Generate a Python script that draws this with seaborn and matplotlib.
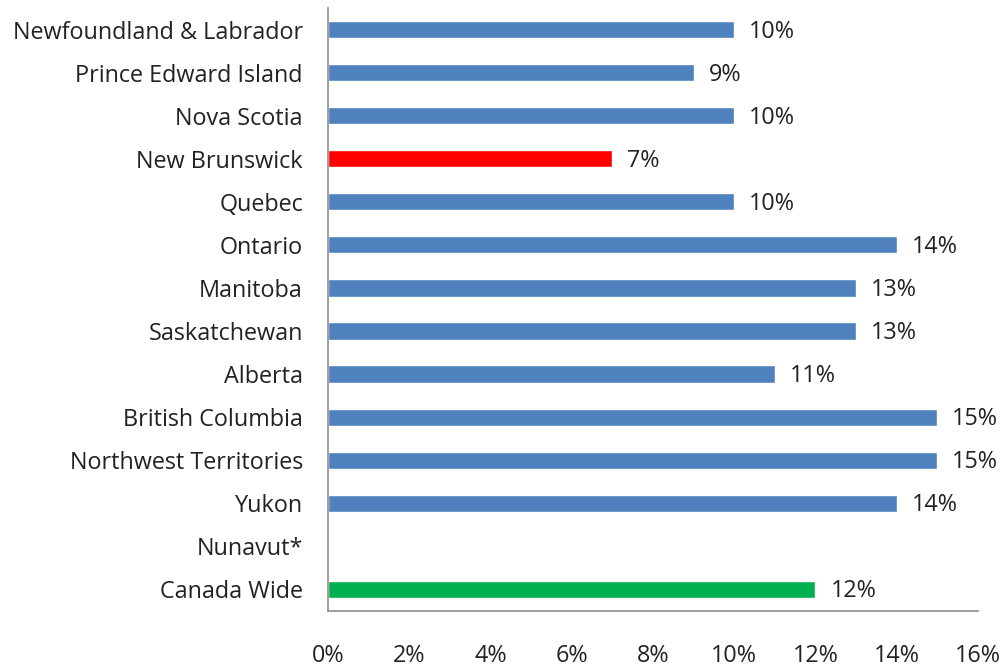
import matplotlib
matplotlib.use("Agg")
import matplotlib.pyplot as plt
import seaborn as sns
import numpy as np
import pandas as pd

regions = ["Newfoundland & Labrador", "Prince Edward Island", "Nova Scotia",
           "New Brunswick", "Quebec", "Ontario", "Manitoba", "Saskatchewan",
           "Alberta", "British Columbia", "Northwest Territories", "Yukon",
           "Nunavut*", "Canada Wide"]
values = [10, 9, 10, 7, 10, 14, 13, 13, 11, 15, 15, 14, np.nan, 12]
colors = ["#4F81BD"] * 3 + ["#FF0000"] + ["#4F81BD"] * 9 + ["#00B050"]
xticks = [0, 2, 4, 6, 8, 10, 12, 14, 16]

sns.set_theme(style="white")
plt.rcParams["font.family"] = ["Open Sans", "DejaVu Sans"]

df = pd.DataFrame({"region": regions, "value": values})

fig = plt.figure(figsize=(10.03, 6.67), dpi=100)
ax = fig.add_axes([0.327, 0.084, 0.648, 0.904])
sns.barplot(data=df, x="value", y="region", hue="region", palette=colors,
            order=regions, hue_order=regions, width=0.4, legend=False,
            saturation=1, ax=ax, orient="h")

fs = 16.8
for i, v in enumerate(values):
    if not np.isnan(v):
        ax.annotate(f"{v:.0f}%", (v, i), xytext=(15, -2), textcoords="offset pixels",
                    ha="left", va="center", fontsize=fs, color="#222222")

ax.set_xlim(0, 16)
ax.set_ylim(len(regions) - 0.5, -0.5)
ax.set_xticks(xticks)
ax.set_xticklabels([f"{t}%" for t in xticks])
ax.set_xlabel("")
ax.set_ylabel("")
ax.tick_params(axis="x", length=0, pad=24, labelsize=fs, colors="#222222")
ax.tick_params(axis="y", length=0, pad=18, labelsize=fs, colors="#222222")
for s in ["top", "right"]:
    ax.spines[s].set_visible(False)
for s in ["left", "bottom"]:
    ax.spines[s].set_color("#8C8C8C")
    ax.spines[s].set_linewidth(1.2)

fig.savefig("out.png", dpi=100)
